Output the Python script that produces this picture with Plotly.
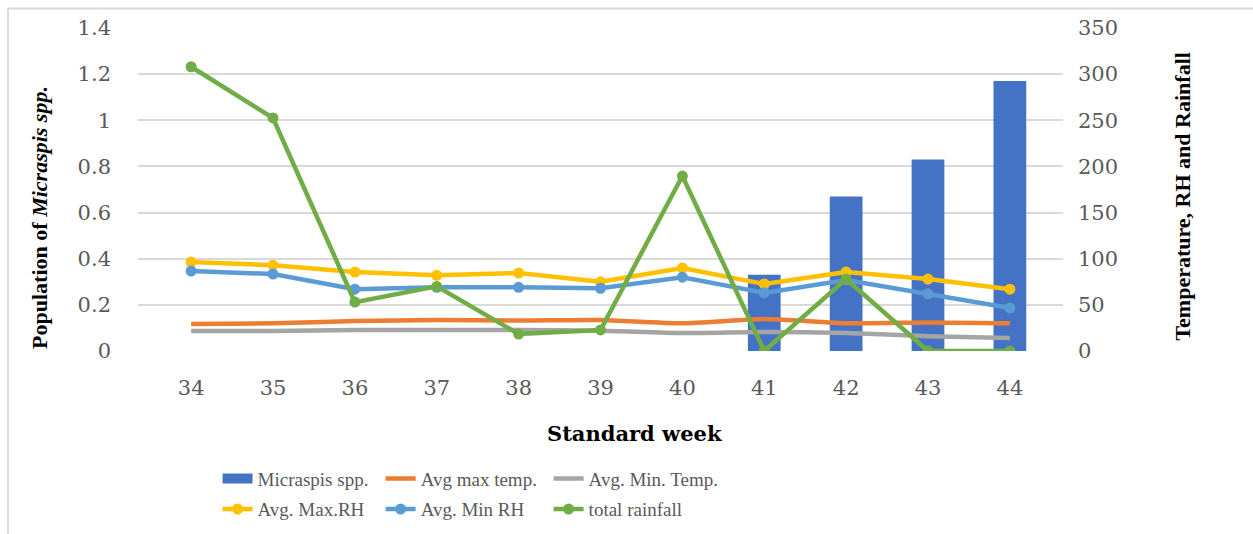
import plotly.graph_objects as go

# Standard weeks and observations
weeks = ["34", "35", "36", "37", "38", "39", "40", "41", "42", "43", "44"]
micraspis = [0, 0, 0, 0, 0, 0, 0, 0.33, 0.67, 0.83, 1.17]
max_temp = [29.3, 30.0, 32.5, 33.6, 33.0, 33.6, 30.0, 34.7, 30.0, 31.0, 30.0]
min_temp = [21.7, 21.7, 22.7, 22.7, 22.7, 22.0, 19.5, 20.6, 19.5, 16.0, 14.0]
max_rh = [96.4, 93.0, 85.6, 82.0, 84.5, 75.0, 90.0, 72.6, 85.6, 78.0, 67.0]
min_rh = [86.7, 83.4, 67.0, 69.0, 69.0, 68.0, 80.0, 63.0, 77.0, 62.0, 46.6]
rainfall = [308, 252.5, 53, 70, 18.4, 22.8, 189.6, 0, 78, 0, 0]

left_ticks = [0, 0.2, 0.4, 0.6, 0.8, 1, 1.2, 1.4]
left_tick_text = ["0", "0.2", "0.4", "0.6", "0.8", "1", "1.2", "1.4"]
right_ticks = [0, 50, 100, 150, 200, 250, 300, 350]

TICK_FONT = dict(family="DejaVu Serif", size=21, color="#595959")
LEG_FONT = dict(family="Liberation Serif", size=19, color="#595959")
LW = 4.5
MS = 11
BAR_COLOR = "#4472C4"

fig = go.Figure()

fig.add_trace(go.Bar(
    x=weeks, y=micraspis, name="Micraspis spp.", marker_color=BAR_COLOR,
    marker_line_width=0, width=0.4, yaxis="y", showlegend=False,
))
# legend key for the bars, drawn as a wide block like the other keys
fig.add_trace(go.Scatter(
    x=[None], y=[None], name="Micraspis spp.", mode="lines",
    line=dict(color=BAR_COLOR, width=10), yaxis="y",
    legend="legend", legendgroup="a",
))
fig.add_trace(go.Scatter(
    x=weeks, y=max_temp, name="Avg max temp.", mode="lines",
    line=dict(color="#ED7D31", width=LW, shape="spline", smoothing=0.6),
    yaxis="y2", legend="legend2", legendgroup="b",
))
fig.add_trace(go.Scatter(
    x=weeks, y=min_temp, name="Avg. Min. Temp.", mode="lines",
    line=dict(color="#A5A5A5", width=LW, shape="spline", smoothing=0.6),
    yaxis="y2", legend="legend3", legendgroup="c",
))
fig.add_trace(go.Scatter(
    x=weeks, y=max_rh, name="Avg. Max.RH", mode="lines+markers",
    line=dict(color="#FFC000", width=LW), marker=dict(size=MS, color="#FFC000"),
    yaxis="y2", legend="legend", legendgroup="d",
))
fig.add_trace(go.Scatter(
    x=weeks, y=min_rh, name="Avg. Min RH", mode="lines+markers",
    line=dict(color="#5B9BD5", width=LW), marker=dict(size=MS, color="#5B9BD5"),
    yaxis="y2", legend="legend2", legendgroup="e",
))
fig.add_trace(go.Scatter(
    x=weeks, y=rainfall, name="total rainfall", mode="lines+markers",
    line=dict(color="#70AD47", width=LW), marker=dict(size=MS, color="#70AD47"),
    yaxis="y2", legend="legend3", legendgroup="f",
))

legend_common = dict(
    orientation="v", font=LEG_FONT, xanchor="left", yanchor="top",
    bgcolor="rgba(0,0,0,0)", traceorder="grouped", tracegroupgap=3,
    itemwidth=30, y=-0.336,
)

fig.update_layout(
    width=1253, height=534,
    margin=dict(l=138, r=190, t=28, b=183, autoexpand=False),
    paper_bgcolor="white", plot_bgcolor="white",
    showlegend=True,
    xaxis=dict(
        type="category", tickfont=TICK_FONT, showgrid=False, zeroline=False,
        showline=False, ticks="", ticklabelstandoff=22,
    ),
    yaxis=dict(
        range=[0, 1.4], tickvals=left_ticks, ticktext=left_tick_text,
        tickfont=TICK_FONT, showgrid=True, gridcolor="#D9D9D9", gridwidth=1.5,
        zeroline=False, showline=False, ticks="", ticklabelstandoff=26,
    ),
    yaxis2=dict(
        range=[0, 350], tickvals=right_ticks, overlaying="y", side="right",
        tickfont=TICK_FONT, showgrid=False, zeroline=False, showline=False,
        ticks="", ticklabelstandoff=14,
    ),
    legend=dict(x=0.086, **legend_common),
    legend2=dict(x=0.2623, **legend_common),
    legend3=dict(x=0.4439, **legend_common),
    annotations=[
        dict(text="<b>Population of <i>Micraspis spp.</i></b>", textangle=-90,
             xref="paper", yref="paper", x=-0.106, y=0.415, showarrow=False,
             font=dict(family="Liberation Serif", size=22, color="black"),
             xanchor="center", yanchor="middle"),
        dict(text="<b>Temperature, RH and Rainfall</b>", textangle=-90,
             xref="paper", yref="paper", x=1.1297, y=0.478, showarrow=False,
             font=dict(family="Liberation Serif", size=22, color="black"),
             xanchor="center", yanchor="middle"),
        dict(text="<b>Standard week</b>", xref="paper", yref="paper",
             x=0.537, y=-0.254, showarrow=False,
             font=dict(family="DejaVu Serif", size=21, color="black"),
             xanchor="center", yanchor="middle"),
    ],
    shapes=[
        # chart frame: left and top edges
        dict(type="line", xref="paper", yref="paper",
             x0=(8 - 138) / 925, x1=(8 - 138) / 925,
             y0=(351 - 534) / 323, y1=(351 - 8) / 323,
             line=dict(color="#D9D9D9", width=2)),
        dict(type="line", xref="paper", yref="paper",
             x0=(8 - 138) / 925, x1=(1253 - 138) / 925,
             y0=(351 - 8.5) / 323, y1=(351 - 8.5) / 323,
             line=dict(color="#D9D9D9", width=2)),
    ],
)

fig.write_html("out.html")
